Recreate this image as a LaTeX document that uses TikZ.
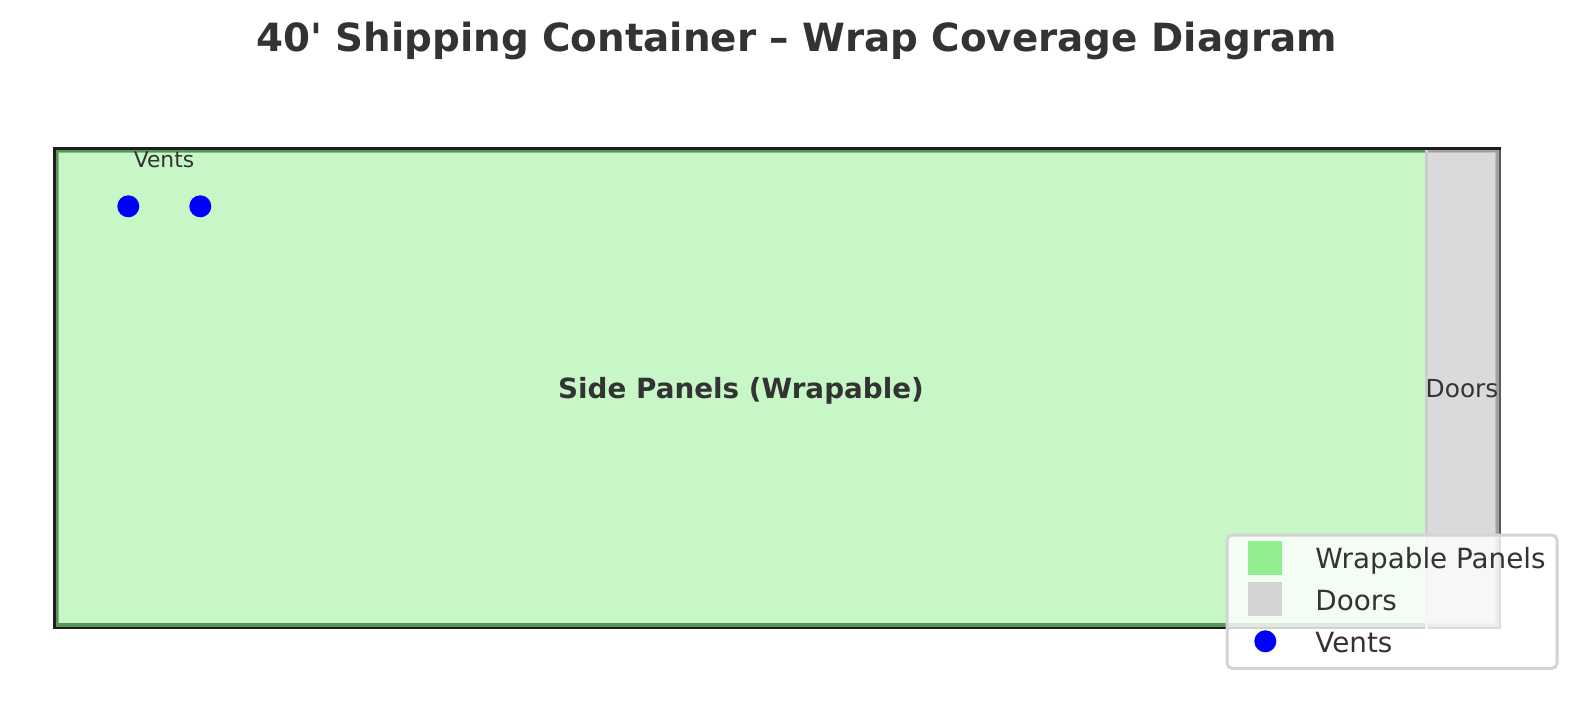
\documentclass[tikz,border=0pt]{standalone}
\usepackage{fontspec}
\setmainfont{DejaVu Sans}
\newfontfamily\plainfont{DejaVu Sans}
\definecolor{panel}{RGB}{199,247,199}
\definecolor{bandgreen}{RGB}{88,150,88}
\definecolor{bandlight}{RGB}{130,190,130}
\definecolor{doorfill}{RGB}{218,218,218}
\definecolor{doorband}{RGB}{160,160,160}
\definecolor{doorlight}{RGB}{190,190,190}
\definecolor{rim}{RGB}{30,30,30}
\begin{document}
\begin{tikzpicture}[x=0.5pt,y=-0.5pt,
  lbl/.style={inner sep=0pt,text=black!80,anchor=base},
  legtext/.style={lbl,anchor=base west,font=\fontsize{13.9}{16}\selectfont},
  vent/.style={circle,fill=blue,inner sep=0pt,minimum size=11pt},
  swatch/.style={inner sep=0pt,minimum size=17pt}]
\useasboundingbox (0,0) rectangle (1589,702);
\fill[white] (0,0) rectangle (1589,702);
% container: outer rim, green band, panel
\fill[rim] (53.3,147) rectangle (1426,628.5);
\fill[bandgreen] (55.5,149.8) rectangle (1426,626.5);
\fill[bandlight] (58.2,152.4) rectangle (1426,623.4);
\fill[panel] (59,153) rectangle (1426,622.8);
% doors
\fill[rim] (1426,147) rectangle (1500.7,149.8);
\fill[black!65] (1426,149.8) rectangle (1500.7,628.5);
\fill[doorband] (1426,149.8) rectangle (1499.4,627.3);
\fill[doorlight] (1426,152.4) rectangle (1495.8,624);
\fill[doorfill] (1427,153) rectangle (1495,622.8);
\fill[black!20] (1425,149.8) rectangle (1428,628.5);
\node[lbl,font=\plainfont\fontsize{19.42}{24}\bfseries\selectfont] (title) at (796.5,51) {40' Shipping Container – Wrap Coverage Diagram};
\node[lbl,font=\fontsize{13.9}{16}\bfseries\selectfont] (side) at (741,398) {Side Panels (Wrapable)};
\node[lbl,font=\fontsize{12.4}{14}\selectfont] (doors) at (1462,397) {Doors};
\node[lbl,font=\fontsize{10.9}{12}\selectfont] (ventlabel) at (164,167) {Vents};
\node[vent] (v1) at (128.3,206.3) {};
\node[vent] (v2) at (200.3,206.3) {};
\draw[rounded corners=2.5pt,line width=1.5pt,draw=black!17,fill=white,fill opacity=0.8] (1227,535) rectangle (1557,668.3);
\node[swatch,fill={rgb,255:red,144;green,238;blue,144}] (s1) at (1265,558) {};
\node[swatch,fill={rgb,255:red,211;green,211;blue,211}] (s2) at (1265,599) {};
\node[vent] (s3) at (1265.3,641.3) {};
\node[legtext] (t1) at (1315,568) {Wrapable Panels};
\node[legtext] (t2) at (1315,610) {Doors};
\node[legtext] (t3) at (1315,652) {Vents};
\end{tikzpicture}
\end{document}
